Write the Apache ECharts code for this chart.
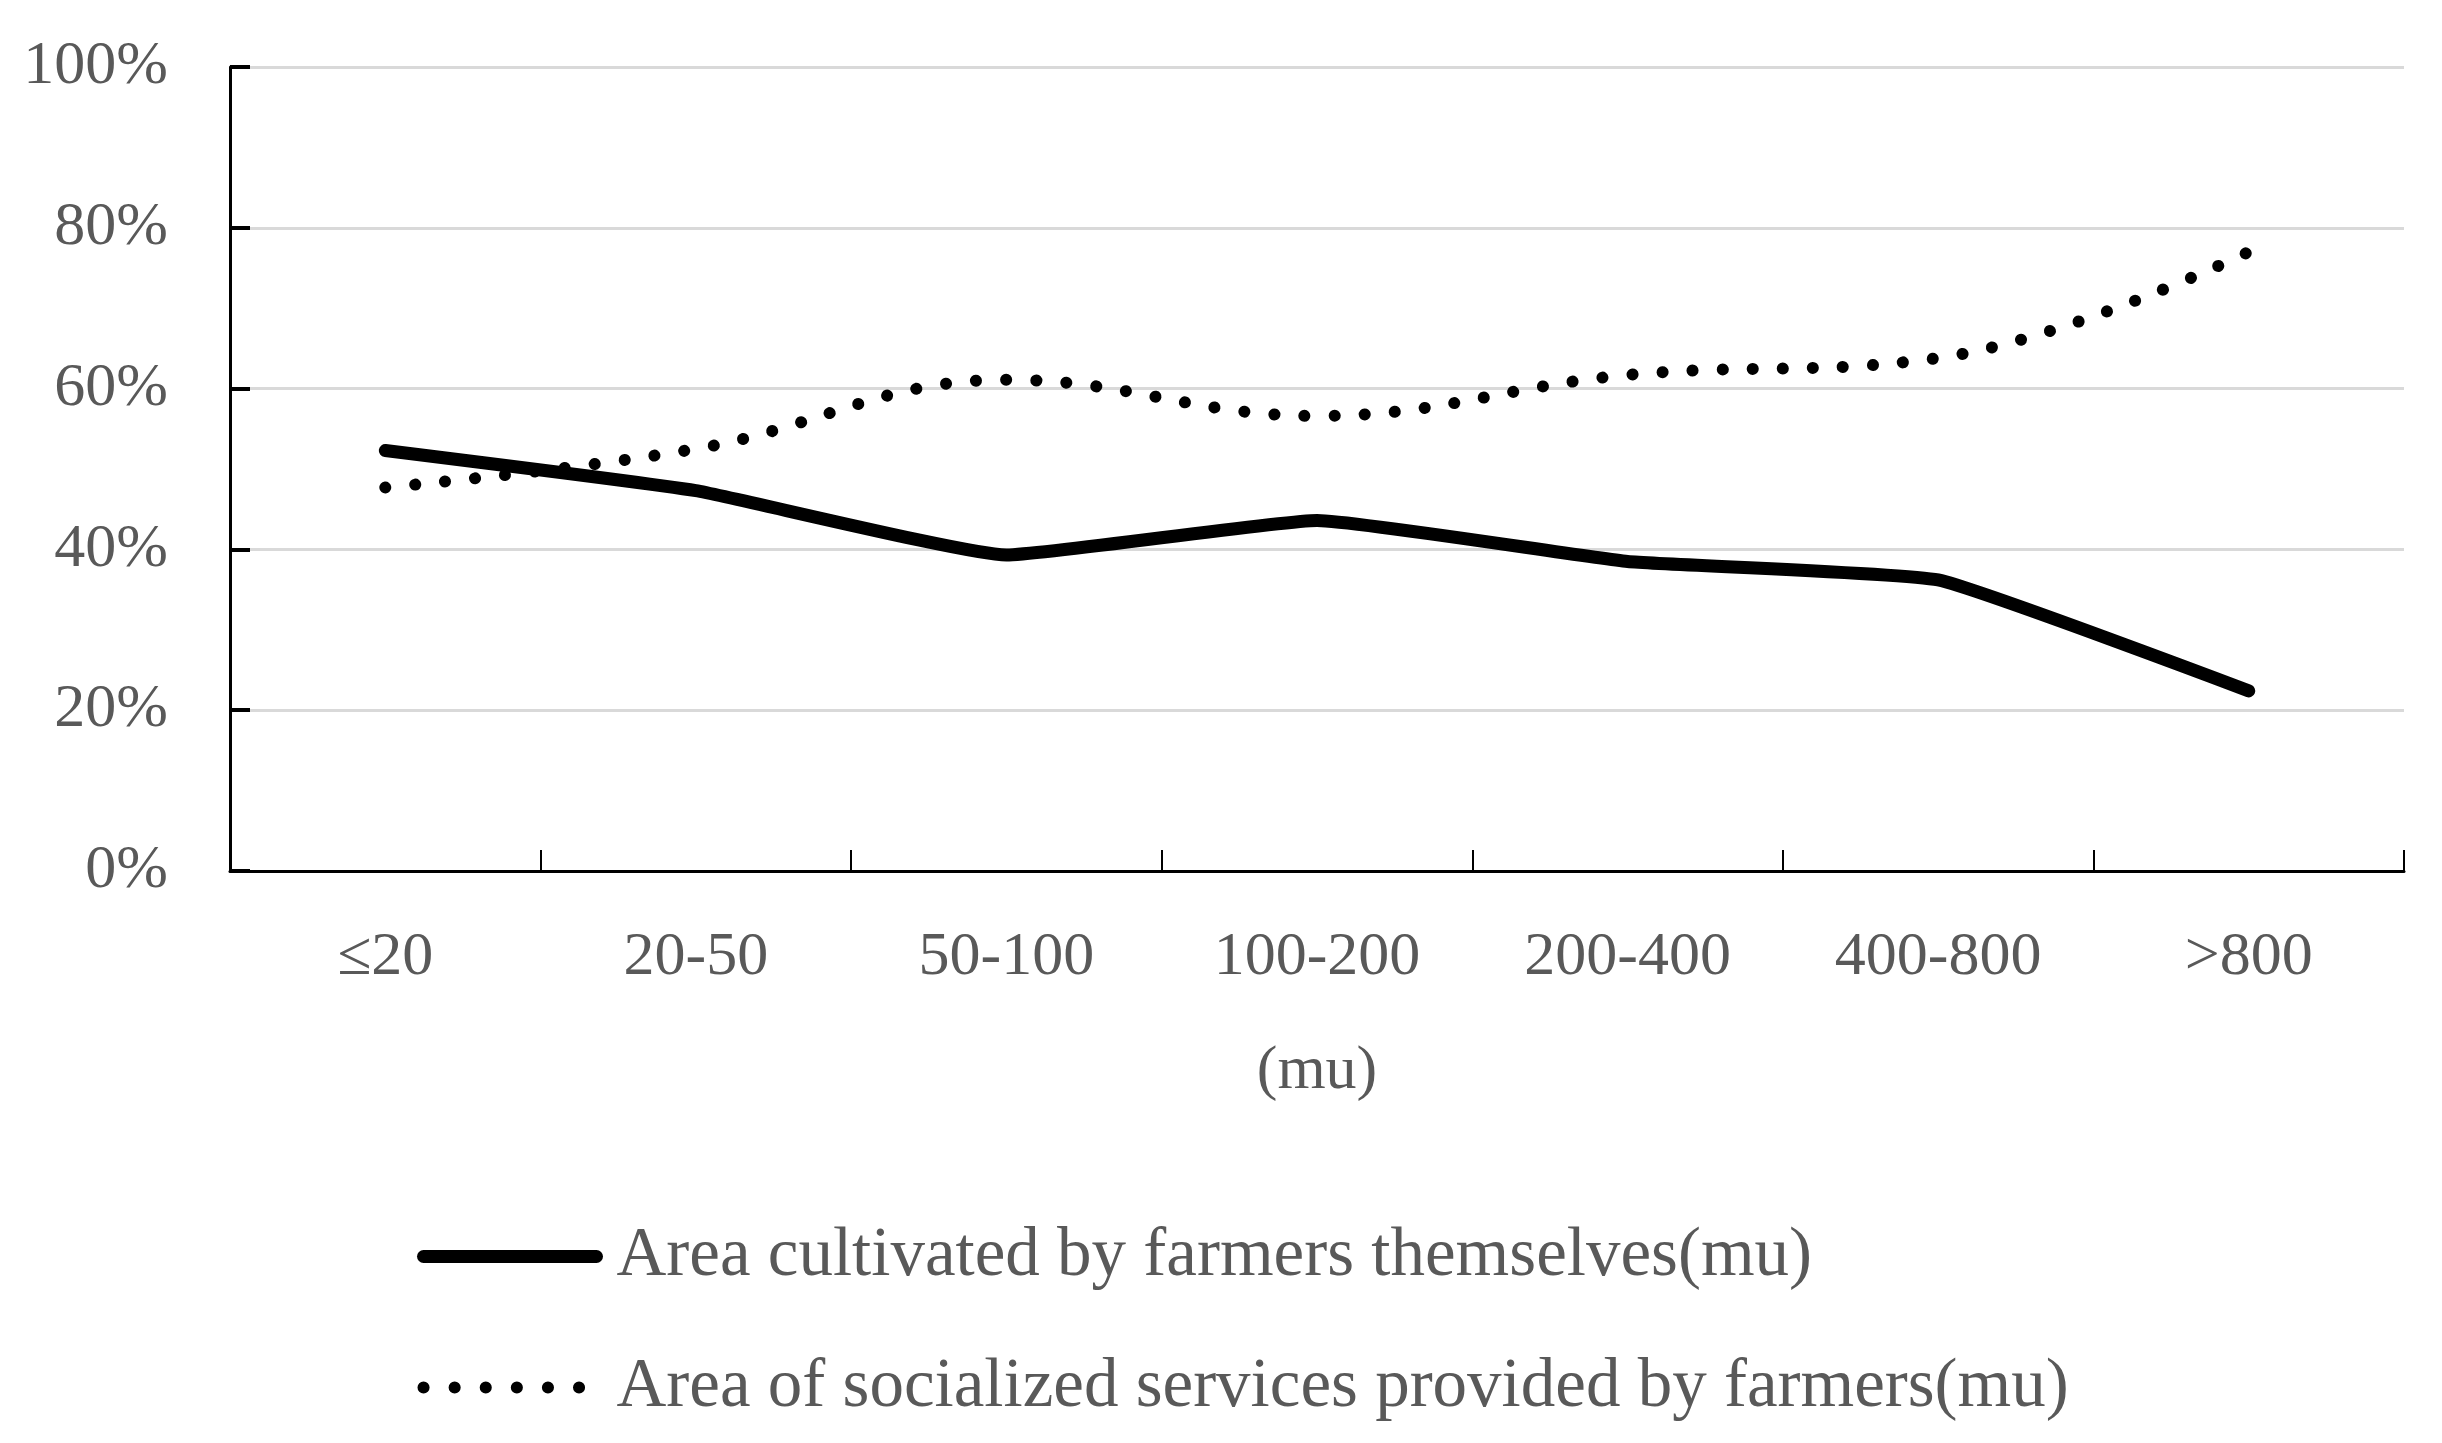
<!DOCTYPE html>
<html>
<head>
<meta charset="utf-8">
<script src="https://cdn.jsdelivr.net/npm/echarts@6/dist/echarts.min.js"></script>
<style>
html,body{margin:0;padding:0;background:#fff;}
#main{width:2442px;height:1443px;}
</style>
</head>
<body>
<div id="main"></div>
<script>
const categories = ['≤20', '20-50', '50-100', '100-200', '200-400', '400-800', '>800'];
const selfCultivated = [52.3, 47.3, 39.3, 43.6, 38.5, 36.2, 22.4];
const socializedServices = [47.7, 52.5, 61.1, 56.6, 61.7, 63.8, 77.0];
const seriesNames = ['Area cultivated by farmers themselves(mu)', 'Area of socialized services provided by farmers(mu)'];
const xAxisName = '(mu)';

const FONT = 'Liberation Serif';
const GRAY = '#595959';

const chart = echarts.init(document.getElementById('main'));
chart.setOption({
  backgroundColor: '#ffffff',
  animation: false,
  grid: { left: 230, right: 38, top: 67, bottom: 572 },
  legend: {
    orient: 'vertical',
    left: 417,
    top: 1222,
    padding: 0,
    itemWidth: 173,
    itemHeight: 16,
    itemGap: 62,
    itemStyle: { opacity: 0 },
    lineStyle: { width: 12, color: '#000', cap: 'round' },
    textStyle: { fontFamily: FONT, fontSize: 69, color: GRAY, padding: [0, 0, 0, 15] },
    data: [
      { name: seriesNames[0], lineStyle: { width: 13, type: 'solid', cap: 'round' } },
      { name: seriesNames[1], lineStyle: { width: 12, type: [0.1, 31], cap: 'round' } }
    ]
  },
  xAxis: {
    type: 'category',
    data: categories,
    boundaryGap: true,
    name: xAxisName,
    nameLocation: 'middle',
    nameGap: 170,
    nameTextStyle: { fontFamily: FONT, fontSize: 62, color: GRAY },
    axisLine: { show: true, lineStyle: { color: '#000', width: 3 } },
    axisTick: { show: true, interval: 0, inside: true, length: 21, lineStyle: { color: '#000', width: 2 } },
    axisLabel: { fontFamily: FONT, fontSize: 62, color: GRAY, margin: 56 },
    splitLine: { show: false }
  },
  yAxis: {
    type: 'value',
    min: 0,
    max: 100,
    interval: 20,
    axisLine: { show: true, lineStyle: { color: '#000', width: 3 } },
    axisTick: { show: true, inside: true, length: 20, lineStyle: { color: '#000', width: 4 } },
    axisLabel: { fontFamily: FONT, fontSize: 62, color: GRAY, margin: 62, formatter: '{value}%' },
    splitLine: { show: true, lineStyle: { color: '#d9d9d9', width: 3 } }
  },
  series: [
    {
      name: seriesNames[0],
      type: 'line',
      data: selfCultivated,
      symbol: 'none',
      smooth: 0.12,
      z: 3,
      itemStyle: { color: '#000' },
      lineStyle: { color: '#000', width: 13, cap: 'round', join: 'round' }
    },
    {
      name: seriesNames[1],
      type: 'line',
      data: socializedServices,
      symbol: 'none',
      smooth: 0.4,
      z: 2,
      itemStyle: { color: '#000' },
      lineStyle: { color: '#000', width: 12, type: [0.1, 30], cap: 'round' }
    }
  ]
});
</script>
</body>
</html>
